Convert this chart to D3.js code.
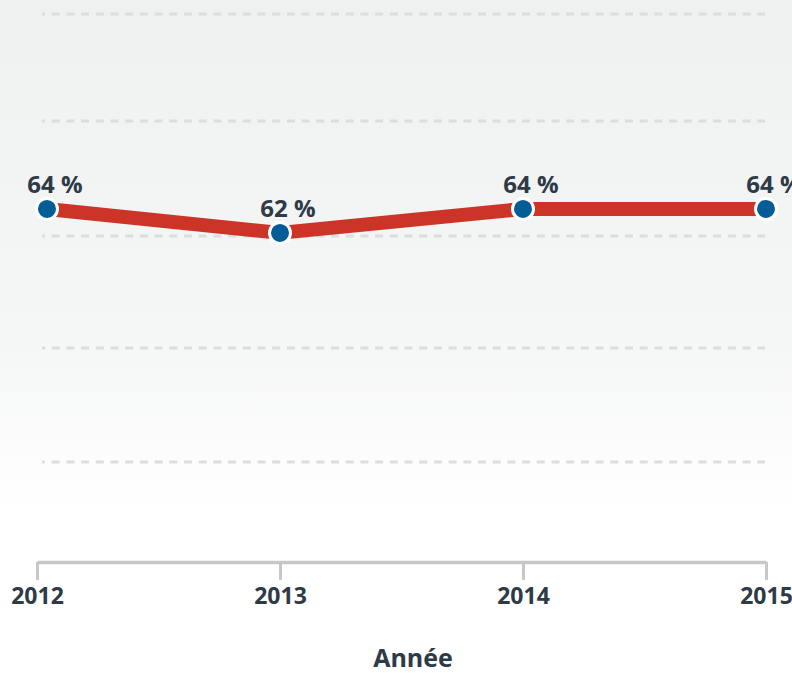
<!DOCTYPE html>
<html>
<head>
<meta charset="utf-8">
<script src="https://cdn.jsdelivr.net/npm/d3@7"></script>
<style>
  html, body { margin: 0; padding: 0; background: #fff; }
  svg { display: block; font-family: "Open Sans", "Noto Sans", sans-serif; }
</style>
</head>
<body>
<svg id="chart" width="792" height="673"></svg>
<script>
// data
var years = [2012, 2013, 2014, 2015];
var values = [64, 62, 64, 64];
var valueLabels = ["64 %", "62 %", "64 %", "64 %"];
var gridVals = [42.9, 52.4, 61.75, 71.35, 80.25];
var axisTitle = "Année";

var W = 792, H = 673;
var textColor = "#2e3a46";
var lineColor = "#cc3428";
var dotColor = "#045d96";

var svg = d3.select("#chart");

// background gradient (grey at top fading to white)
var defs = svg.append("defs");
var grad = defs.append("linearGradient")
    .attr("id", "bg")
    .attr("x1", 0).attr("y1", 0).attr("x2", 0).attr("y2", 1);
grad.append("stop").attr("offset", "0%").attr("stop-color", "#eff0f0");
grad.append("stop").attr("offset", "50%").attr("stop-color", "#f5f6f6");
grad.append("stop").attr("offset", "76%").attr("stop-color", "#ffffff");
svg.append("rect").attr("width", W).attr("height", H).attr("fill", "url(#bg)");

// scales
var x = d3.scaleLinear()
    .domain(d3.extent(years))
    .range([37, 766]);

var y = d3.scaleLinear()
    .domain([42.9, 80.25])
    .range([462, 14]);

// gridlines
svg.append("g")
    .selectAll("line")
    .data(gridVals)
    .enter()
    .append("line")
        .attr("x1", 42)
        .attr("x2", 765)
        .attr("y1", function(d) { return Math.round(y(d)); })
        .attr("y2", function(d) { return Math.round(y(d)); })
        .attr("stroke", "#dcdddd")
        .attr("stroke-width", 3)
        .attr("stroke-dasharray", "8 6.7")
        .attr("stroke-dashoffset", 5);

// x axis
var axisY = 562;
var xAxis = d3.axisBottom(x)
    .tickValues(years)
    .tickFormat(d3.format("d"))
    .tickSize(18)
    .tickSizeOuter(0)
    .tickPadding(8);

var gx = svg.append("g")
    .attr("transform", "translate(0," + axisY + ")")
    .call(xAxis);

gx.select(".domain")
    .attr("stroke", "#c6c7c9")
    .attr("stroke-width", 3.5);
gx.selectAll(".tick line")
    .attr("stroke", "#c6c7c9")
    .attr("stroke-width", 3);
gx.selectAll(".tick text")
    .attr("fill", textColor)
    .attr("font-size", "23px")
    .attr("font-weight", 700)
    .attr("font-family", "'Open Sans', sans-serif");

// axis title
svg.append("text")
    .attr("x", 413)
    .attr("y", 667)
    .attr("text-anchor", "middle")
    .attr("fill", textColor)
    .attr("font-size", "25px")
    .attr("font-weight", 700)
    .text(axisTitle);

// points, first one nudged inward a bit like the original
var pts = years.map(function(yr, i) {
    return {
        year: yr,
        value: values[i],
        label: valueLabels[i],
        cx: Math.max(x(yr), x.range()[0] + 10),
        cy: y(values[i])
    };
});

var line = d3.line()
    .x(function(d) { return d.cx; })
    .y(function(d) { return d.cy; });

svg.append("path")
    .datum(pts)
    .attr("d", line)
    .attr("fill", "none")
    .attr("stroke", lineColor)
    .attr("stroke-width", 14)
    .attr("stroke-linejoin", "round");

svg.append("g")
    .selectAll("circle")
    .data(pts)
    .enter()
    .append("circle")
        .attr("cx", function(d) { return d.cx; })
        .attr("cy", function(d) { return d.cy; })
        .attr("r", 10.5)
        .attr("fill", dotColor)
        .attr("stroke", "#ffffff")
        .attr("stroke-width", 3);

svg.append("g")
    .selectAll("text")
    .data(pts)
    .enter()
    .append("text")
        .attr("x", function(d) { return d.cx + 8; })
        .attr("y", function(d) { return d.cy - 16; })
        .attr("text-anchor", "middle")
        .attr("fill", textColor)
        .attr("font-size", "24px")
        .attr("font-weight", 700)
        .text(function(d) { return d.label; });
</script>
</body>
</html>
